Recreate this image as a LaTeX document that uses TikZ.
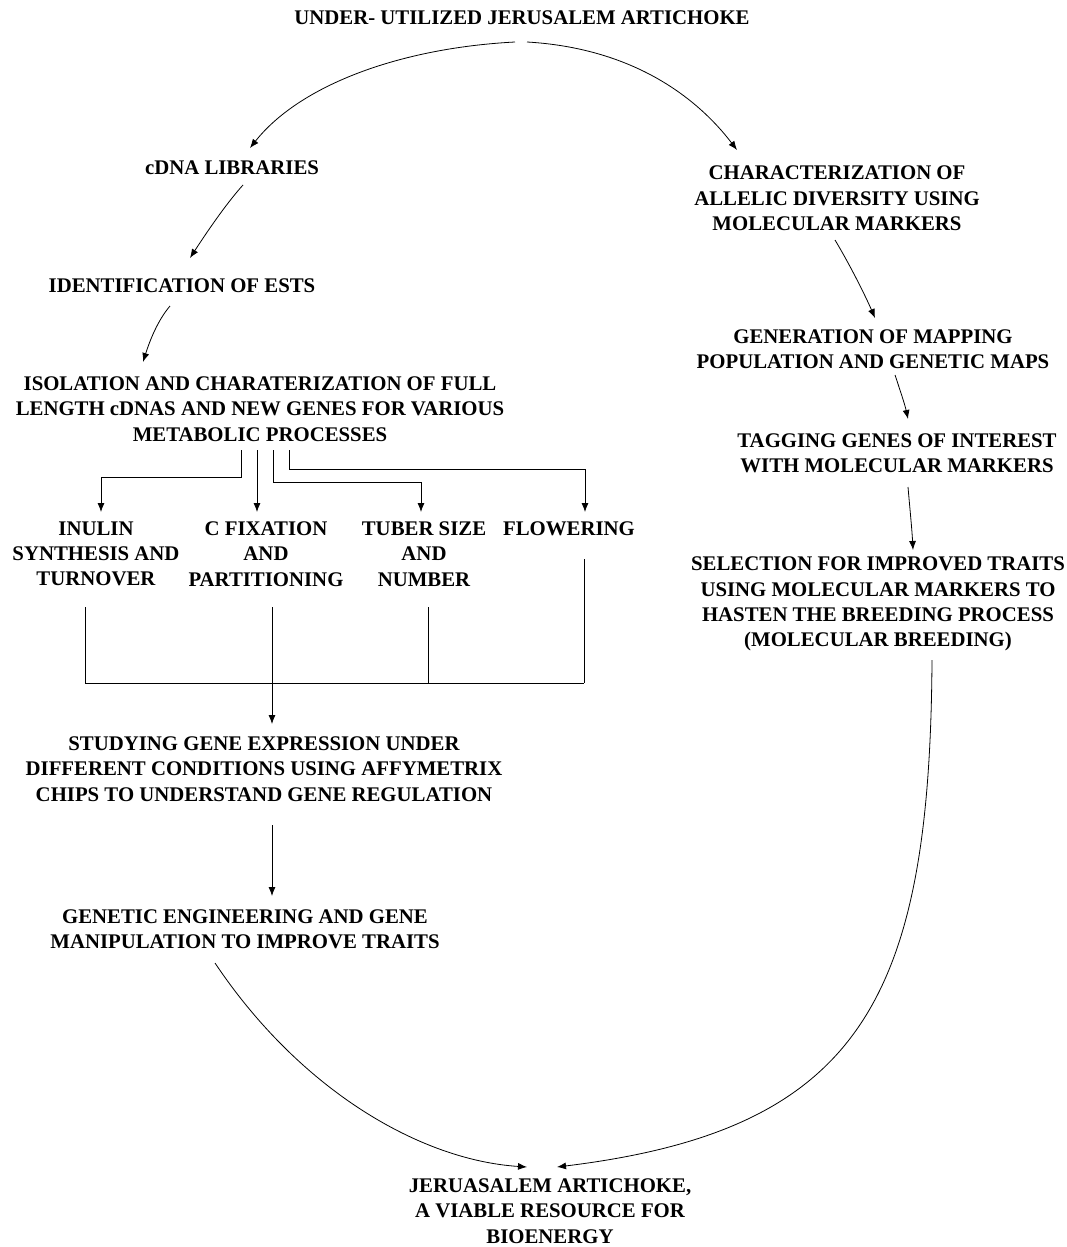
\documentclass[tikz,border=0pt]{standalone}
\usepackage{fontspec}
\setmainfont{Liberation Serif}[BoldFont={Liberation Serif Bold}]
\newfontfamily\lsbold{Liberation Serif Bold}
\usetikzlibrary{arrows.meta,calc}
\begin{document}
\begin{tikzpicture}[x=1pt,y=-1pt,
 lbl/.style={font=\lsbold\fontsize{20.8}{25.3}\selectfont, align=center, inner sep=0pt},
 conn/.style={line width=0.8pt},
 arr/.style={conn,-{Latex[length=9pt,width=7pt]}}]
\useasboundingbox (0,0) rectangle (1067,1247);
% nodes
\node[lbl] (title) at (522,18) {UNDER- UTILIZED JERUSALEM ARTICHOKE};
\node[lbl] (cdna) at (232,168) {cDNA LIBRARIES};
\node[lbl] (est) at (182,286) {IDENTIFICATION OF ESTS};
\node[lbl] (iso) at (260,409) {ISOLATION AND CHARATERIZATION OF FULL\\LENGTH cDNAS AND NEW GENES FOR VARIOUS\\METABOLIC PROCESSES};
\node[lbl] (inu) at (96,554) {INULIN\\SYNTHESIS AND\\TURNOVER};
\node[lbl] (cfix) at (266,554) {C FIXATION\\AND\\PARTITIONING};
\node[lbl] (tub) at (424,554) {TUBER SIZE\\AND\\NUMBER};
\node[lbl] (flow) at (569,529) {FLOWERING};
\node[lbl] (stud) at (264,769) {STUDYING GENE EXPRESSION UNDER\\DIFFERENT CONDITIONS USING AFFYMETRIX\\CHIPS TO UNDERSTAND GENE REGULATION};
\node[lbl] (geng) at (245,929.5) {GENETIC ENGINEERING AND GENE\\MANIPULATION TO IMPROVE TRAITS};
\node[lbl] (char) at (837,198.5) {CHARACTERIZATION OF\\ALLELIC DIVERSITY USING\\MOLECULAR MARKERS};
\node[lbl] (gen) at (873,349) {GENERATION OF MAPPING\\POPULATION AND GENETIC MAPS};
\node[lbl] (tag) at (897,453.5) {TAGGING GENES OF INTEREST\\WITH MOLECULAR MARKERS};
\node[lbl] (sel) at (878,604) {SELECTION FOR IMPROVED TRAITS\\USING MOLECULAR MARKERS TO\\HASTEN THE BREEDING PROCESS\\(MOLECULAR BREEDING)};
\node[lbl] (bio) at (550,1211) {JERUASALEM ARTICHOKE,\\A VIABLE RESOURCE FOR\\BIOENERGY};
% connector end points
\coordinate (tL) at (515,42);
\coordinate (tR) at (527,42);
\coordinate (cdnaIn) at (250,148);
\coordinate (charIn) at (737,150);
\coordinate (cdnaOut) at (243,185);
\coordinate (estIn) at (190,258);
\coordinate (estOut) at (170,306);
\coordinate (isoIn) at (143,362);
\coordinate (b1) at (241,450);
\coordinate (b2) at (257,450);
\coordinate (b3) at (273,450);
\coordinate (b4) at (289,450);
\coordinate (inuIn) at (101,512);
\coordinate (cfixIn) at (257,512);
\coordinate (tubIn) at (421,512);
\coordinate (flowIn) at (585,512);
\coordinate (inuOut) at (85,607);
\coordinate (cfixOut) at (272,607);
\coordinate (tubOut) at (428,607);
\coordinate (flowOut) at (584,559);
\coordinate (studIn) at (272,724);
\coordinate (studOut) at (272,825);
\coordinate (gengIn) at (272,896);
\coordinate (gengOut) at (215,963);
\coordinate (bioL) at (527,1167);
\coordinate (bioR) at (557,1167);
\coordinate (charOut) at (835,240);
\coordinate (genIn) at (875,318);
\coordinate (genOut) at (895,375);
\coordinate (tagIn) at (908,419);
\coordinate (tagOut) at (908,487);
\coordinate (selIn) at (913,550);
\coordinate (selOut) at (932,660);
% connectors
\draw[arr] (tL) .. controls (400,48) and (300,85) .. (cdnaIn);
\draw[arr] (tR) .. controls (630,48) and (695,95) .. (charIn);
\draw[arr] (cdnaOut) .. controls (225,205) and (205,235) .. (estIn);
\draw[arr] (estOut) .. controls (158,320) and (150,340) .. (isoIn);
\draw[arr] (b1) |- ($(inuIn)+(0,-35)$) -- (inuIn);
\draw[arr] (b2) -- (cfixIn);
\draw[arr] (b3) |- ($(tubIn)+(0,-30)$) -- (tubIn);
\draw[arr] (b4) |- ($(flowIn)+(0,-43)$) -- (flowIn);
\draw[conn] (inuOut) |- (584,683) coordinate (hEnd);
\draw[conn] (flowOut) -- (hEnd);
\draw[conn] (tubOut) -- (tubOut |- hEnd);
\draw[arr] (cfixOut) -- (studIn);
\draw[arr] (studOut) -- (gengIn);
\draw[arr] (gengOut) .. controls (300,1090) and (420,1160) .. (bioL);
\draw[arr] (charOut) .. controls (850,265) and (865,295) .. (genIn);
\draw[arr] (genOut) .. controls (900,390) and (905,405) .. (tagIn);
\draw[arr] (tagOut) .. controls (910,510) and (912,530) .. (selIn);
\draw[arr] (selOut) .. controls (930,1000) and (860,1130) .. (bioR);
\end{tikzpicture}
\end{document}
